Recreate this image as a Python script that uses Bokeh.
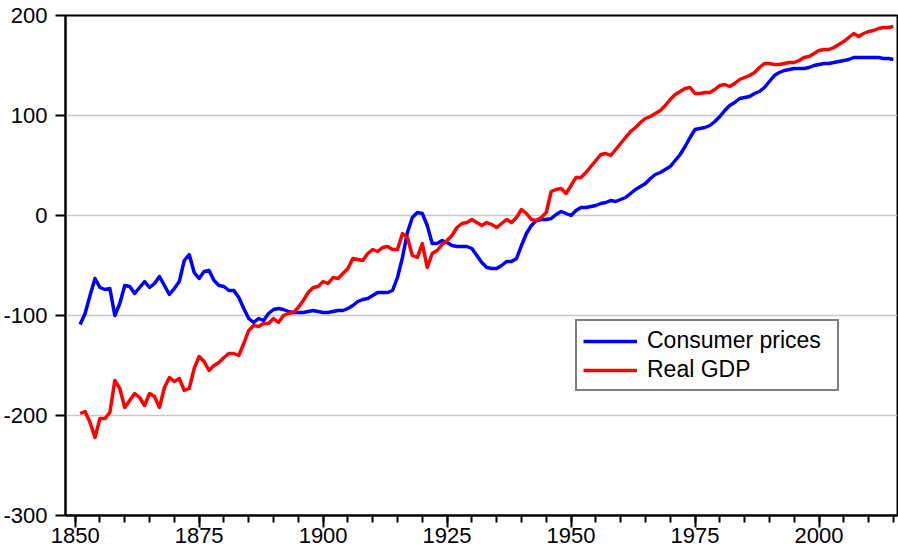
from bokeh.plotting import figure
from bokeh.models import (Legend, LegendItem, FixedTicker, Range1d, ColumnDataSource,
                          CustomJSTickFormatter)
from bokeh.embed import file_html
from bokeh.resources import INLINE

years = list(range(1851, 2016))

consumer_prices = [
    -109, -98, -80, -63, -72, -74, -73, -100, -88, -70,
    -71, -78, -72, -66, -72, -68, -61, -70, -79, -73,
    -66, -45, -39, -57, -63, -56, -55, -65, -70, -71,
    -75, -75, -82, -93, -103, -107, -103, -105, -98, -94,
    -93, -94, -96, -97, -97, -97, -96, -95, -96, -97,
    -97, -96, -95, -95, -93, -90, -86, -84, -83, -80,
    -77, -77, -77, -75, -62, -42, -17, -2, 3, 2,
    -10, -28, -28, -25, -27, -30, -31, -31, -31, -33,
    -40, -47, -52, -53, -53, -50, -46, -46, -43, -30,
    -18, -10, -5, -4, -4, -3, 1, 4, 2, 0,
    5, 8, 8, 9, 10, 12, 13, 15, 14, 16,
    18, 22, 26, 29, 32, 37, 41, 43, 46, 49,
    55, 61, 69, 78, 86, 87, 88, 90, 94, 99,
    105, 110, 113, 117, 118, 119, 122, 124, 128, 134,
    140, 143, 145, 146, 147, 147, 147, 148, 150, 151,
    152, 152, 153, 154, 155, 156, 158, 158, 158, 158,
    158, 158, 157, 157, 156,
]

real_gdp = [
    -198, -196, -207, -222, -203, -203, -197, -165, -173, -192,
    -185, -178, -182, -190, -178, -181, -192, -172, -162, -166,
    -163, -175, -173, -153, -141, -146, -155, -150, -147, -142,
    -138, -138, -140, -128, -115, -110, -111, -108, -108, -103,
    -107, -100, -98, -97, -92, -85, -77, -72, -71, -66,
    -68, -62, -63, -58, -53, -43, -44, -45, -38, -34,
    -36, -32, -31, -34, -34, -18, -22, -40, -42, -28,
    -52, -38, -35, -29, -25, -20, -12, -8, -7, -4,
    -7, -10, -7, -9, -12, -8, -4, -7, -2, 6,
    2, -4, -5, -2, 3, 24, 26, 27, 22, 30,
    38, 38, 43, 49, 55, 61, 62, 60, 66, 72,
    78, 84, 88, 93, 97, 99, 102, 105, 110, 116,
    121, 124, 127, 128, 122, 122, 123, 123, 126, 130,
    131, 129, 132, 136, 138, 140, 143, 148, 152, 152,
    151, 151, 152, 153, 153, 155, 158, 159, 162, 165,
    166, 166, 168, 171, 174, 178, 182, 179, 182, 184,
    185, 187, 188, 188, 189,
]

series_names = ["Consumer prices", "Real GDP"]
x_major = [1850, 1875, 1900, 1925, 1950, 1975, 2000]
x_minor = list(range(1850, 2016, 5))
y_major = [-300, -200, -100, 0, 100, 200]

src = ColumnDataSource(dict(year=years, cpi=consumer_prices, gdp=real_gdp))

FONT = "Liberation Sans"

p = figure(width=898, height=550,
           x_range=Range1d(1848.05, 2015.83), y_range=Range1d(-300, 200),
           output_backend="svg", toolbar_location=None,
           min_border_left=63, min_border_top=15, min_border_right=1, min_border_bottom=35,
           background_fill_color="white", border_fill_color="white")

p.outline_line_color = "black"
p.outline_line_width = 2

p.xgrid.visible = False
p.ygrid.grid_line_color = "#c8c8c8"
p.ygrid.grid_line_width = 1.5

p.xaxis.ticker = FixedTicker(ticks=x_major, minor_ticks=x_minor)
p.yaxis.ticker = FixedTicker(ticks=y_major, minor_ticks=[])
p.yaxis.formatter = CustomJSTickFormatter(code="return String(tick);")

for ax in (p.xaxis[0], p.yaxis[0]):
    ax.axis_line_color = "black"
    ax.axis_line_width = 2
    ax.major_tick_line_color = "black"
    ax.major_tick_line_width = 2
    ax.minor_tick_line_color = "black"
    ax.minor_tick_line_width = 2
    ax.major_tick_in = 0
    ax.minor_tick_in = 0
    ax.major_label_text_font = FONT
    ax.major_label_text_font_size = "22px"
    ax.major_label_text_color = "black"

p.xaxis.major_tick_out = 12
p.xaxis.minor_tick_out = 7
p.xaxis.major_label_standoff = 0
p.yaxis.major_tick_out = 10
p.yaxis.minor_tick_out = 0
p.yaxis.major_label_standoff = 8

r_cpi = p.line("year", "cpi", source=src, line_color="#0000ff", line_width=3.5, line_join="round")
r_gdp = p.line("year", "gdp", source=src, line_color="#ff0000", line_width=3.5, line_join="round")

legend = Legend(items=[LegendItem(label=series_names[0], renderers=[r_cpi]),
                       LegendItem(label=series_names[1], renderers=[r_gdp])],
                location=(510, 124), margin=0, padding=6, spacing=2,
                glyph_width=54, glyph_height=24, label_height=24, label_standoff=10,
                label_width=184,
                label_text_font=FONT, label_text_font_size="23px", label_text_color="black",
                border_line_color="black", border_line_width=2,
                background_fill_color="white", background_fill_alpha=1.0)
p.add_layout(legend)

open("out.html", "w").write(file_html(p, INLINE))
